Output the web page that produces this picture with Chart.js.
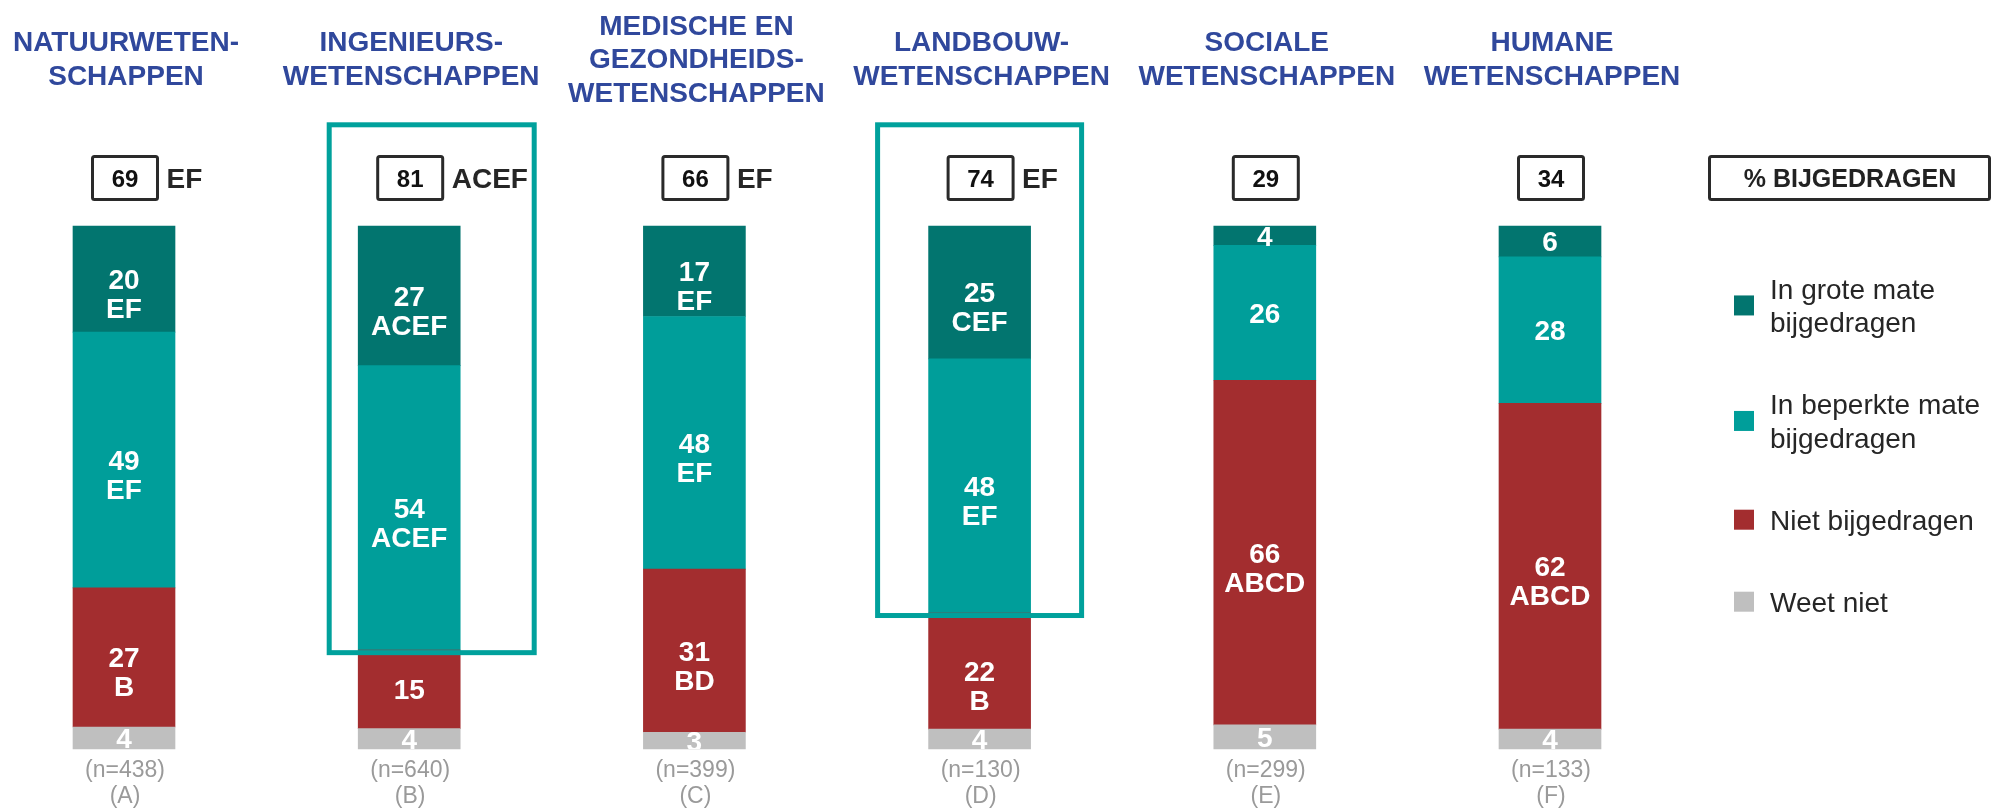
<!DOCTYPE html>
<html>
<head>
<meta charset="utf-8">
<script src="https://cdn.jsdelivr.net/npm/chart.js@4.4.1/dist/chart.umd.min.js"></script>
<style>
html,body{margin:0;padding:0;background:#ffffff;overflow:hidden}
canvas{display:block}
</style>
</head>
<body>
<canvas id="chart" width="1992" height="809"></canvas>
<script>
// ---------- DATA ----------
const categories = [
  ['NATUURWETEN-', 'SCHAPPEN'],
  ['INGENIEURS-', 'WETENSCHAPPEN'],
  ['MEDISCHE EN', 'GEZONDHEIDS-', 'WETENSCHAPPEN'],
  ['LANDBOUW-', 'WETENSCHAPPEN'],
  ['SOCIALE', 'WETENSCHAPPEN'],
  ['HUMANE', 'WETENSCHAPPEN']
];
const sampleSizes = ['(n=438)', '(n=640)', '(n=399)', '(n=130)', '(n=299)', '(n=133)'];
const groupLetters = ['(A)', '(B)', '(C)', '(D)', '(E)', '(F)'];

// segment heights (% of respondents)
const groteMate       = [20.3, 26.7, 17.3, 25.4, 3.7, 5.9];
const beperkteMate    = [48.9, 54.4, 48.3, 48.6, 25.8, 28.0];
const nietBijgedragen = [26.6, 15.0, 31.2, 22.2, 65.9, 62.3];
const weetNiet        = [4.2, 3.9, 3.2, 3.8, 4.6, 3.8];

// printed labels inside the segments (value + significance letters)
const groteLabels    = [['20', 'EF'], ['27', 'ACEF'], ['17', 'EF'], ['25', 'CEF'], ['4'], ['6']];
const beperkteLabels = [['49', 'EF'], ['54', 'ACEF'], ['48', 'EF'], ['48', 'EF'], ['26'], ['28']];
const nietLabels     = [['27', 'B'], ['15'], ['31', 'BD'], ['22', 'B'], ['66', 'ABCD'], ['62', 'ABCD']];
const weetLabels     = [['4'], ['4'], ['3'], ['4'], ['5'], ['4']];

// "% bijgedragen" totals and their significance letters
const totalContributed = ['69', '81', '66', '74', '29', '34'];
const totalLetters     = ['EF', 'ACEF', 'EF', 'EF', '', ''];
const headerTitle = '% BIJGEDRAGEN';

const seriesNames = [
  ['In grote mate', 'bijgedragen'],
  ['In beperkte mate', 'bijgedragen'],
  ['Niet bijgedragen'],
  ['Weet niet']
];

// ---------- STYLE / LAYOUT ----------
const COLORS = {
  grote: '#02756F',
  beperkte: '#009E9A',
  niet: '#A32D2F',
  weet: '#BFBFBF',
  title: '#30489C',
  highlight: '#00A19C',
  boxBorder: '#2A2A2A',
  boxText: '#111111',
  letters: '#262626',
  nText: '#9A9A9A',
  legendText: '#262626'
};
const FONT = '"Liberation Sans", Arial, Helvetica, sans-serif';
const highlightBoxes = [
  { index: 1, left: -80, right: 125 },
  { index: 3, left: -102, right: 102 }
];

function capText(ctx, text, x, cy, size, weight, color, align) {
  ctx.font = weight + ' ' + size + 'px ' + FONT;
  ctx.fillStyle = color;
  ctx.textAlign = align || 'center';
  ctx.textBaseline = 'alphabetic';
  ctx.fillText(text, x, cy + size * 0.358);
}

const annotationPlugin = {
  id: 'annotations',
  afterDatasetsDraw(chart) {
    const ctx = chart.ctx;
    const area = chart.chartArea;
    const xs = chart.scales.x;

    // segment labels
    ctx.save();
    ctx.beginPath();
    ctx.rect(0, area.top, chart.width, area.bottom - area.top);
    ctx.clip();
    chart.data.datasets.forEach((ds, di) => {
      const meta = chart.getDatasetMeta(di);
      meta.data.forEach((bar, j) => {
        const lines = ds.segmentLabels[j];
        const cy = (bar.y + bar.base) / 2;
        lines.forEach((t, k) => {
          capText(ctx, t, bar.x, cy + k * 29, 28, 'bold', '#ffffff');
        });
      });
    });
    ctx.restore();

    ctx.save();
    // category titles, header boxes, n labels
    chart.data.labels.forEach((lab, j) => {
      const x = xs.getPixelForValue(j);
      const n = lab.length;
      lab.forEach((line, k) => {
        ctx.font = 'bold 28px ' + FONT;
        ctx.fillStyle = COLORS.title;
        ctx.textAlign = 'center';
        ctx.textBaseline = 'alphabetic';
        ctx.fillText(line, x + 2, 68.3 + (k - (n - 1) / 2) * 33.7);
      });
      const bw = 65, bx = x + 1 - bw / 2;
      ctx.lineWidth = 3;
      ctx.strokeStyle = COLORS.boxBorder;
      ctx.beginPath();
      ctx.roundRect(bx, 156.5, bw, 43, 2);
      ctx.stroke();
      capText(ctx, totalContributed[j], x + 1, 178.5, 24, 'bold', COLORS.boxText);
      if (totalLetters[j]) {
        capText(ctx, totalLetters[j], bx + bw + 9, 178, 28, 'bold', COLORS.letters, 'left');
      }
      ctx.font = '23px ' + FONT;
      ctx.fillStyle = COLORS.nText;
      ctx.textAlign = 'center';
      ctx.textBaseline = 'middle';
      ctx.fillText(sampleSizes[j], x + 1, 771);
      ctx.fillText(groupLetters[j], x + 1, 797);
    });

    // highlight boxes around the "bijgedragen" part
    const beperkteMeta = chart.getDatasetMeta(2);
    highlightBoxes.forEach(h => {
      const x = xs.getPixelForValue(h.index);
      const bottom = beperkteMeta.data[h.index].base + 2.5;
      ctx.lineWidth = 5;
      ctx.strokeStyle = COLORS.highlight;
      ctx.strokeRect(x + h.left, 124.8, h.right - h.left, bottom - 124.8);
    });

    // header "% BIJGEDRAGEN"
    ctx.lineWidth = 3;
    ctx.strokeStyle = COLORS.boxBorder;
    ctx.beginPath();
    ctx.roundRect(1709.5, 156.5, 280, 43, 2);
    ctx.stroke();
    capText(ctx, headerTitle, 1850, 178, 25, 'bold', '#222222');

    // legend (top series first)
    const order = [3, 2, 1, 0];
    let yTop = 278.7;
    order.forEach((di, k) => {
      const ds = chart.data.datasets[di];
      const lines = seriesNames[k];
      const blockH = 20 + (lines.length - 1) * 33.5;
      const cy = yTop + blockH / 2;
      ctx.fillStyle = ds.backgroundColor;
      ctx.fillRect(1734, cy - 10, 20, 20);
      ctx.font = '28px ' + FONT;
      ctx.fillStyle = COLORS.legendText;
      ctx.textAlign = 'left';
      ctx.textBaseline = 'alphabetic';
      lines.forEach((t, i) => ctx.fillText(t, 1770, yTop + 20 + i * 33.5));
      yTop += blockH + 62;
    });
    ctx.restore();
  }
};

const chart = new Chart(document.getElementById('chart'), {
  type: 'bar',
  data: {
    labels: categories,
    datasets: [
      { label: seriesNames[3].join(' '), data: weetNiet, backgroundColor: COLORS.weet, segmentLabels: weetLabels },
      { label: seriesNames[2].join(' '), data: nietBijgedragen, backgroundColor: COLORS.niet, segmentLabels: nietLabels },
      { label: seriesNames[1].join(' '), data: beperkteMate, backgroundColor: COLORS.beperkte, segmentLabels: beperkteLabels },
      { label: seriesNames[0].join(' '), data: groteMate, backgroundColor: COLORS.grote, segmentLabels: groteLabels }
    ]
  },
  options: {
    responsive: false,
    animation: false,
    devicePixelRatio: 1,
    layout: { padding: { top: 226, bottom: 60, left: 124, right: 442 } },
    datasets: { bar: { barThickness: 102, clip: false, borderWidth: 0 } },
    plugins: { legend: { display: false }, tooltip: { enabled: false } },
    scales: {
      x: { stacked: true, display: false, offset: false },
      y: { stacked: true, display: false, min: 0, max: 100 }
    }
  },
  plugins: [annotationPlugin]
});
</script>
</body>
</html>
